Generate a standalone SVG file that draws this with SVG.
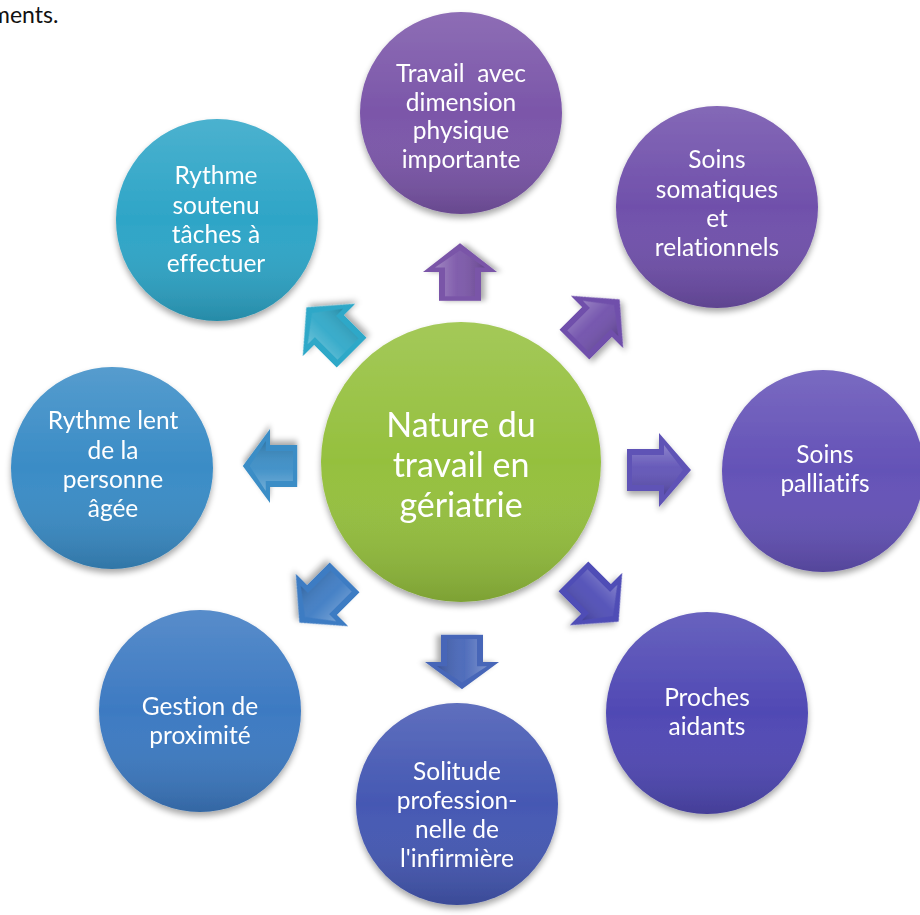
<svg xmlns="http://www.w3.org/2000/svg" xmlns:xlink="http://www.w3.org/1999/xlink" width="920" height="915" viewBox="0 0 920 915">
<style>
.t{font-family:Lato,"Open Sans","Liberation Sans",sans-serif;font-size:24.5px;fill:#ffffff;text-anchor:middle;white-space:pre;font-variant-ligatures:none}
.c{font-family:Lato,"Open Sans","Liberation Sans",sans-serif;font-size:34px;fill:#ffffff;text-anchor:middle;font-variant-ligatures:none}
.pg{font-family:Lato,"Open Sans","Liberation Sans",sans-serif;font-size:23px;fill:#111111}
</style>
<defs>
<linearGradient id="shade" x1="0" y1="0" x2="0" y2="1">
<stop offset="0" stop-color="#ffffff" stop-opacity="0.14"/>
<stop offset="0.5" stop-color="#ffffff" stop-opacity="0"/>
<stop offset="1" stop-color="#000000" stop-opacity="0.16"/>
</linearGradient>
<linearGradient id="bev" x1="0" y1="0" x2="0" y2="1">
<stop offset="0" stop-color="#ffffff" stop-opacity="0.28"/>
<stop offset="0.45" stop-color="#ffffff" stop-opacity="0.05"/>
<stop offset="1" stop-color="#000000" stop-opacity="0.18"/>
</linearGradient>
<filter id="sh" x="-20%" y="-20%" width="140%" height="150%">
<feGaussianBlur in="SourceAlpha" stdDeviation="3"/>
<feOffset dx="0" dy="4" result="b"/>
<feComponentTransfer><feFuncA type="linear" slope="0.35"/></feComponentTransfer>
<feMerge><feMergeNode/><feMergeNode in="SourceGraphic"/></feMerge>
</filter>
<path id="arr" d="M-32,-21 H0 V-37 L32,0 L0,37 V21 H-32 Z"/>
<path id="arrIn" d="M-27,-15 H5 V-25 L24,0 L5,25 V15 H-27 Z"/>
<circle id="disc" r="101"/>
</defs>

<text class="pg" x="-9" y="23">ments.</text>

<g id="connectors">
<g transform="translate(460,272) rotate(-90) scale(0.9,1)" filter="url(#sh)"><use xlink:href="#arr" fill="#7a55a8"/><use xlink:href="#arrIn" fill="url(#bev)"/></g>
<g transform="translate(597,322) rotate(-45)" filter="url(#sh)"><use xlink:href="#arr" fill="#7050ab"/><use xlink:href="#arrIn" fill="url(#bev)"/></g>
<g transform="translate(659,470)" filter="url(#sh)"><use xlink:href="#arr" fill="#5f52b6"/><use xlink:href="#arrIn" fill="url(#bev)"/></g>
<g transform="translate(596,599) rotate(45)" filter="url(#sh)"><use xlink:href="#arr" fill="#4f4db6"/><use xlink:href="#arrIn" fill="url(#bev)"/></g>
<g transform="translate(462,662) rotate(90) scale(0.85,1)" filter="url(#sh)"><use xlink:href="#arr" fill="#4766b8"/><use xlink:href="#arrIn" fill="url(#bev)"/></g>
<g transform="translate(322,600) rotate(135)" filter="url(#sh)"><use xlink:href="#arr" fill="#3d7bc3"/><use xlink:href="#arrIn" fill="url(#bev)"/></g>
<g transform="translate(270,466) rotate(180) scale(0.85,1)" filter="url(#sh)"><use xlink:href="#arr" fill="#3a8dc6"/><use xlink:href="#arrIn" fill="url(#bev)"/></g>
<g transform="translate(329,330) rotate(-135)" filter="url(#sh)"><use xlink:href="#arr" fill="#2fa8c8"/><use xlink:href="#arrIn" fill="url(#bev)"/></g>
</g>

<g id="center" filter="url(#sh)">
<circle cx="461" cy="462" r="140" fill="#95c03e"/>
<circle cx="461" cy="462" r="140" fill="url(#shade)"/>
<text class="c" x="461" y="437">Nature du</text>
<text class="c" x="461" y="477">travail en</text>
<text class="c" x="461" y="517">gériatrie</text>
</g>

<g id="n-physique" filter="url(#sh)">
<use xlink:href="#disc" x="461" y="113" fill="#7b56a9"/>
<use xlink:href="#disc" x="461" y="113" fill="url(#shade)"/>
<text class="t" x="461" y="82">Travail  avec</text>
<text class="t" x="461" y="111">dimension</text>
<text class="t" x="461" y="139">physique</text>
<text class="t" x="461" y="168">importante</text>
</g>

<g id="n-soins-somatiques" filter="url(#sh)">
<use xlink:href="#disc" x="717" y="207" fill="#7050ab"/>
<use xlink:href="#disc" x="717" y="207" fill="url(#shade)"/>
<text class="t" x="717" y="168">Soins</text>
<text class="t" x="717" y="198">somatiques</text>
<text class="t" x="717" y="227">et</text>
<text class="t" x="717" y="256">relationnels</text>
</g>

<g id="n-palliatifs" filter="url(#sh)">
<use xlink:href="#disc" x="823" y="471" fill="#6452b7"/>
<use xlink:href="#disc" x="823" y="471" fill="url(#shade)"/>
<text class="t" x="825" y="463">Soins</text>
<text class="t" x="825" y="492">palliatifs</text>
</g>

<g id="n-proches" filter="url(#sh)">
<use xlink:href="#disc" x="707" y="713" fill="#5049b4"/>
<use xlink:href="#disc" x="707" y="713" fill="url(#shade)"/>
<text class="t" x="707" y="706">Proches</text>
<text class="t" x="707" y="735">aidants</text>
</g>

<g id="n-solitude" filter="url(#sh)">
<use xlink:href="#disc" x="457" y="804" fill="#4558b3"/>
<use xlink:href="#disc" x="457" y="804" fill="url(#shade)"/>
<text class="t" x="457" y="780">Solitude</text>
<text class="t" x="457" y="809">profession-</text>
<text class="t" x="457" y="838">nelle de</text>
<text class="t" x="457" y="867">l'infirmière</text>
</g>

<g id="n-gestion" filter="url(#sh)">
<use xlink:href="#disc" x="200" y="711" fill="#3d7ac2"/>
<use xlink:href="#disc" x="200" y="711" fill="url(#shade)"/>
<text class="t" x="200" y="715">Gestion de</text>
<text class="t" x="200" y="744">proximité</text>
</g>

<g id="n-rythme-lent" filter="url(#sh)">
<use xlink:href="#disc" x="112" y="468" fill="#3a8cc6"/>
<use xlink:href="#disc" x="112" y="468" fill="url(#shade)"/>
<text class="t" x="113" y="429">Rythme lent</text>
<text class="t" x="113" y="459">de la</text>
<text class="t" x="113" y="488">personne</text>
<text class="t" x="113" y="517">âgée</text>
</g>

<g id="n-rythme-soutenu" filter="url(#sh)">
<use xlink:href="#disc" x="217" y="220" fill="#2ea5c7"/>
<use xlink:href="#disc" x="217" y="220" fill="url(#shade)"/>
<text class="t" x="216" y="184">Rythme</text>
<text class="t" x="216" y="214">soutenu</text>
<text class="t" x="216" y="243">tâches à</text>
<text class="t" x="216" y="272">effectuer</text>
</g>
</svg>
